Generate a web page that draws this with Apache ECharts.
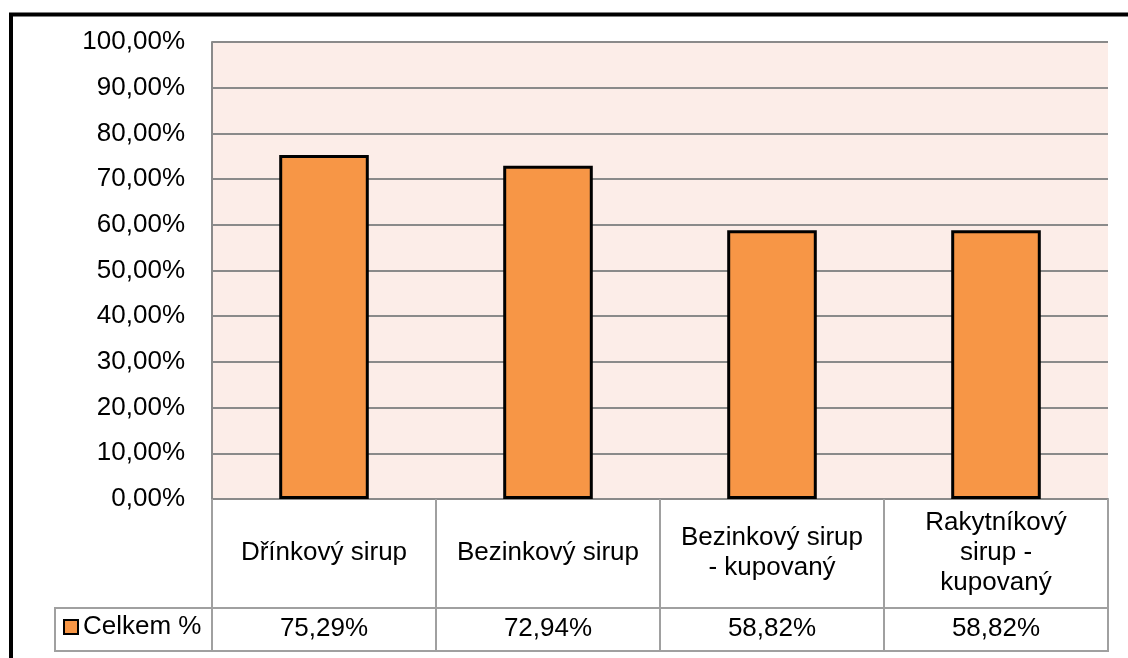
<!DOCTYPE html>
<html>
<head>
<meta charset="utf-8">
<script src="https://cdn.jsdelivr.net/npm/echarts@6/dist/echarts.min.js"></script>
<style>
  html, body { margin: 0; padding: 0; background: #fff; }
  #chart { width: 1128px; height: 658px; }
</style>
</head>
<body>
<div id="chart"></div>
<script>
const categories = ['Dřínkový sirup', 'Bezinkový sirup', 'Bezinkový sirup\n- kupovaný', 'Rakytníkový\nsirup -\nkupovaný']
const celkem = [75.29, 72.94, 58.82, 58.82]
const seriesName = 'Celkem %'
const yTicks = { min: 0, max: 100, interval: 10 }

const font = '"Liberation Sans", Arial, sans-serif'
const gridColor = '#8a8a8a'
const tableColor = '#a0a0a0'

const pct = v => v.toFixed(2).replace('.', ',') + '%'

const chart = echarts.init(document.getElementById('chart'))

const option = {
  animation: false,
  textStyle: { fontFamily: font },
  grid: {
    left: 212,
    top: 42,
    width: 896,
    height: 457,
    show: true,
    backgroundColor: '#fcede8',
    borderWidth: 0,
    outerBoundsMode: 'none'
  },
  legend: {
    left: 63,
    top: 612,
    padding: 0,
    itemWidth: 14,
    itemHeight: 14,
    icon: 'rect',
    selectedMode: false,
    itemStyle: { color: '#f79646', borderColor: '#000', borderWidth: 2 },
    textStyle: { color: '#000', fontSize: 26, fontFamily: font, lineHeight: 30 },
    data: [seriesName]
  },
  xAxis: [
    {
      type: 'category',
      data: categories,
      position: 'bottom',
      axisLine: { show: true, lineStyle: { color: gridColor, width: 2 } },
      axisTick: {
        show: true,
        interval: 0,
        length: 152,
        lineStyle: { color: tableColor, width: 2 }
      },
      axisLabel: {
        interval: 0,
        margin: 54,
        verticalAlign: 'middle',
        color: '#000',
        fontSize: 26,
        lineHeight: 30,
        fontFamily: font
      },
      splitLine: { show: false }
    },
    {
      type: 'category',
      data: categories,
      position: 'bottom',
      offset: 109,
      axisLine: { show: true, lineStyle: { color: tableColor, width: 2 } },
      axisTick: { show: false },
      axisLabel: {
        interval: 0,
        margin: 21,
        verticalAlign: 'middle',
        color: '#000',
        fontSize: 26,
        fontFamily: font,
        formatter: (v, i) => pct(celkem[i])
      },
      splitLine: { show: false }
    }
  ],
  yAxis: {
    type: 'value',
    min: yTicks.min,
    max: yTicks.max,
    interval: yTicks.interval,
    axisLine: { show: true, lineStyle: { color: gridColor, width: 2 } },
    axisTick: { show: false },
    axisLabel: {
      margin: 27,
      color: '#000',
      fontSize: 26,
      fontFamily: font,
      formatter: v => pct(v)
    },
    splitLine: { lineStyle: { color: gridColor, width: 2 } }
  },
  series: [
    {
      name: seriesName,
      type: 'bar',
      xAxisIndex: 0,
      data: celkem,
      barWidth: '40%',
      itemStyle: { color: '#f79646', borderColor: '#000', borderWidth: 3 },
      emphasis: { disabled: true }
    }
  ],
  graphic: [
    // table: legend cell and bottom line
    { type: 'line', silent: true, shape: { x1: 55, y1: 608, x2: 212, y2: 608 }, style: { stroke: tableColor, lineWidth: 2 } },
    { type: 'line', silent: true, shape: { x1: 55, y1: 651, x2: 1109, y2: 651 }, style: { stroke: tableColor, lineWidth: 2 } },
    { type: 'line', silent: true, shape: { x1: 55, y1: 607, x2: 55, y2: 652 }, style: { stroke: tableColor, lineWidth: 2 } },
    // chart area border
    { type: 'rect', silent: true, shape: { x: 11, y: 14.5, width: 1300, height: 800 }, style: { fill: 'none', stroke: '#000', lineWidth: 4 } }
  ]
}

chart.setOption(option)
</script>
</body>
</html>
